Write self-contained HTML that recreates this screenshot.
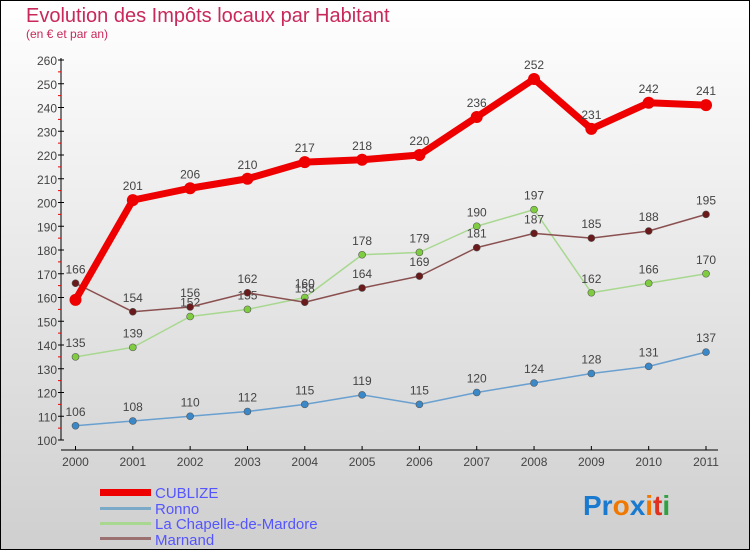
<!DOCTYPE html>
<html><head><meta charset="utf-8"><style>
body{margin:0}
#c{width:750px;height:550px;position:relative;font-family:"Liberation Sans",sans-serif;}
</style></head><body>
<div id="c">
<svg id="s" width="750" height="550" xmlns="http://www.w3.org/2000/svg">
<defs><linearGradient id="bg" x1="0" y1="0" x2="0" y2="1"><stop offset="0" stop-color="#ffffff"/><stop offset="1" stop-color="#cfcfcf"/></linearGradient></defs>
<rect x="0.5" y="0.5" width="749" height="549" fill="url(#bg)" stroke="#000"/>
<text x="26" y="22" font-size="20" fill="#c8285a">Evolution des Impôts locaux par Habitant</text>
<text x="26" y="38" font-size="12" fill="#c8285a">(en € et par an)</text>
<g id="axes"></g><g id="series"></g>
<g>
<rect x="100" y="489" width="51" height="7" fill="#e00"/>
<text x="155" y="498" font-size="15" fill="#5555ff">CUBLIZE</text>
<rect x="100" y="507" width="51" height="3" fill="#7aaac8"/>
<text x="155" y="514" font-size="15" fill="#5555ff">Ronno</text>
<rect x="100" y="522" width="51" height="3" fill="#a8d890"/>
<text x="155" y="529" font-size="15" fill="#5555ff">La Chapelle-de-Mardore</text>
<rect x="100" y="537" width="51" height="3" fill="#9a7070"/>
<text x="155" y="545" font-size="15" fill="#5555ff">Marnand</text>
</g>
<text x="583" y="515" font-size="28" font-weight="bold"><tspan fill="#1a7ad0">Pr</tspan><tspan fill="#f07800">o</tspan><tspan fill="#1a7ad0">x</tspan><tspan fill="#f07800">i</tspan><tspan fill="#e03020">t</tspan><tspan fill="#30a040">i</tspan></text>
</svg>
</div>
<script>
const years=["2000","2001","2002","2003","2004","2005","2006","2007","2008","2009","2010","2011"];
const yTicks=[100,110,120,130,140,150,160,170,180,190,200,210,220,230,240,250,260];
const cublize=[159,201,206,210,217,218,220,236,252,231,242,241];
const ronno=[106,108,110,112,115,119,115,120,124,128,131,137];
const chapelle=[135,139,152,155,160,178,179,190,197,162,166,170];
const marnand=[166,154,156,162,158,164,169,181,187,185,188,195];
const NS="http://www.w3.org/2000/svg";
const X=i=>75.5+i*(706-75.5)/(years.length-1);
const Y=v=>440-(v-100)*(380/160);
function mk(t,a,p){const e=document.createElementNS(NS,t);for(const k in a)e.setAttribute(k,a[k]);p.appendChild(e);return e;}
const ax=document.getElementById('axes');
let e=mk('line',{x1:61,y1:58,x2:61,y2:440,stroke:'#000'},ax);


e=mk('line',{x1:61,y1:450,x2:718,y2:450,stroke:'#000'},ax);


yTicks.forEach((v,i)=>{
 mk('line',{x1:58,y1:Y(v),x2:64,y2:Y(v),stroke:'#000'},ax);
 if(i<yTicks.length-1)mk('line',{x1:58,y1:Y(v+5),x2:61,y2:Y(v+5),stroke:'#e00'},ax);
 const t=mk('text',{x:57,y:Y(v)+5,'text-anchor':'end','font-size':12,fill:'#444'},ax);t.textContent=v;
 
 
});
years.forEach((y,i)=>{
 mk('line',{x1:X(i),y1:446,x2:X(i),y2:450,stroke:'#000'},ax);
 const t=mk('text',{x:X(i),y:466,'text-anchor':'middle','font-size':12,fill:'#444'},ax);t.textContent=y;
 
 
});
const sg=document.getElementById('series');
function series(d,name,col,w,mcol,r,labels){
 const g=mk('g',{},sg);
 
 
 const p=mk('polyline',{points:d.map((v,i)=>X(i)+','+Y(v)).join(' '),fill:'none',stroke:col,'stroke-width':w,'stroke-linejoin':'round'},g);
 
 
 d.forEach((v,i)=>{
  const c=mk('circle',{cx:X(i),cy:Y(v),r:r,fill:mcol,stroke:w>3?'none':'#555','stroke-width':0.6},g);
  
  
  if(labels&&!(name==='cublize'&&i===0)){const t=mk('text',{x:X(i),y:Y(v)-10,'text-anchor':'middle','font-size':12,fill:'#444'},g);t.textContent=v;
  
  }
 });
}
series(ronno,'ronno','#6aa0d0',1.5,'#3a88c8',3.5,true);
series(chapelle,'chapelle','#a8d890',1.5,'#80cc40',3.5,true);
series(marnand,'marnand','#8a5050',1.5,'#6a1a1a',3.5,true);
series(cublize,'cublize','#ee0000',7,'#ee0000',6,true);
</script>
</body></html>
